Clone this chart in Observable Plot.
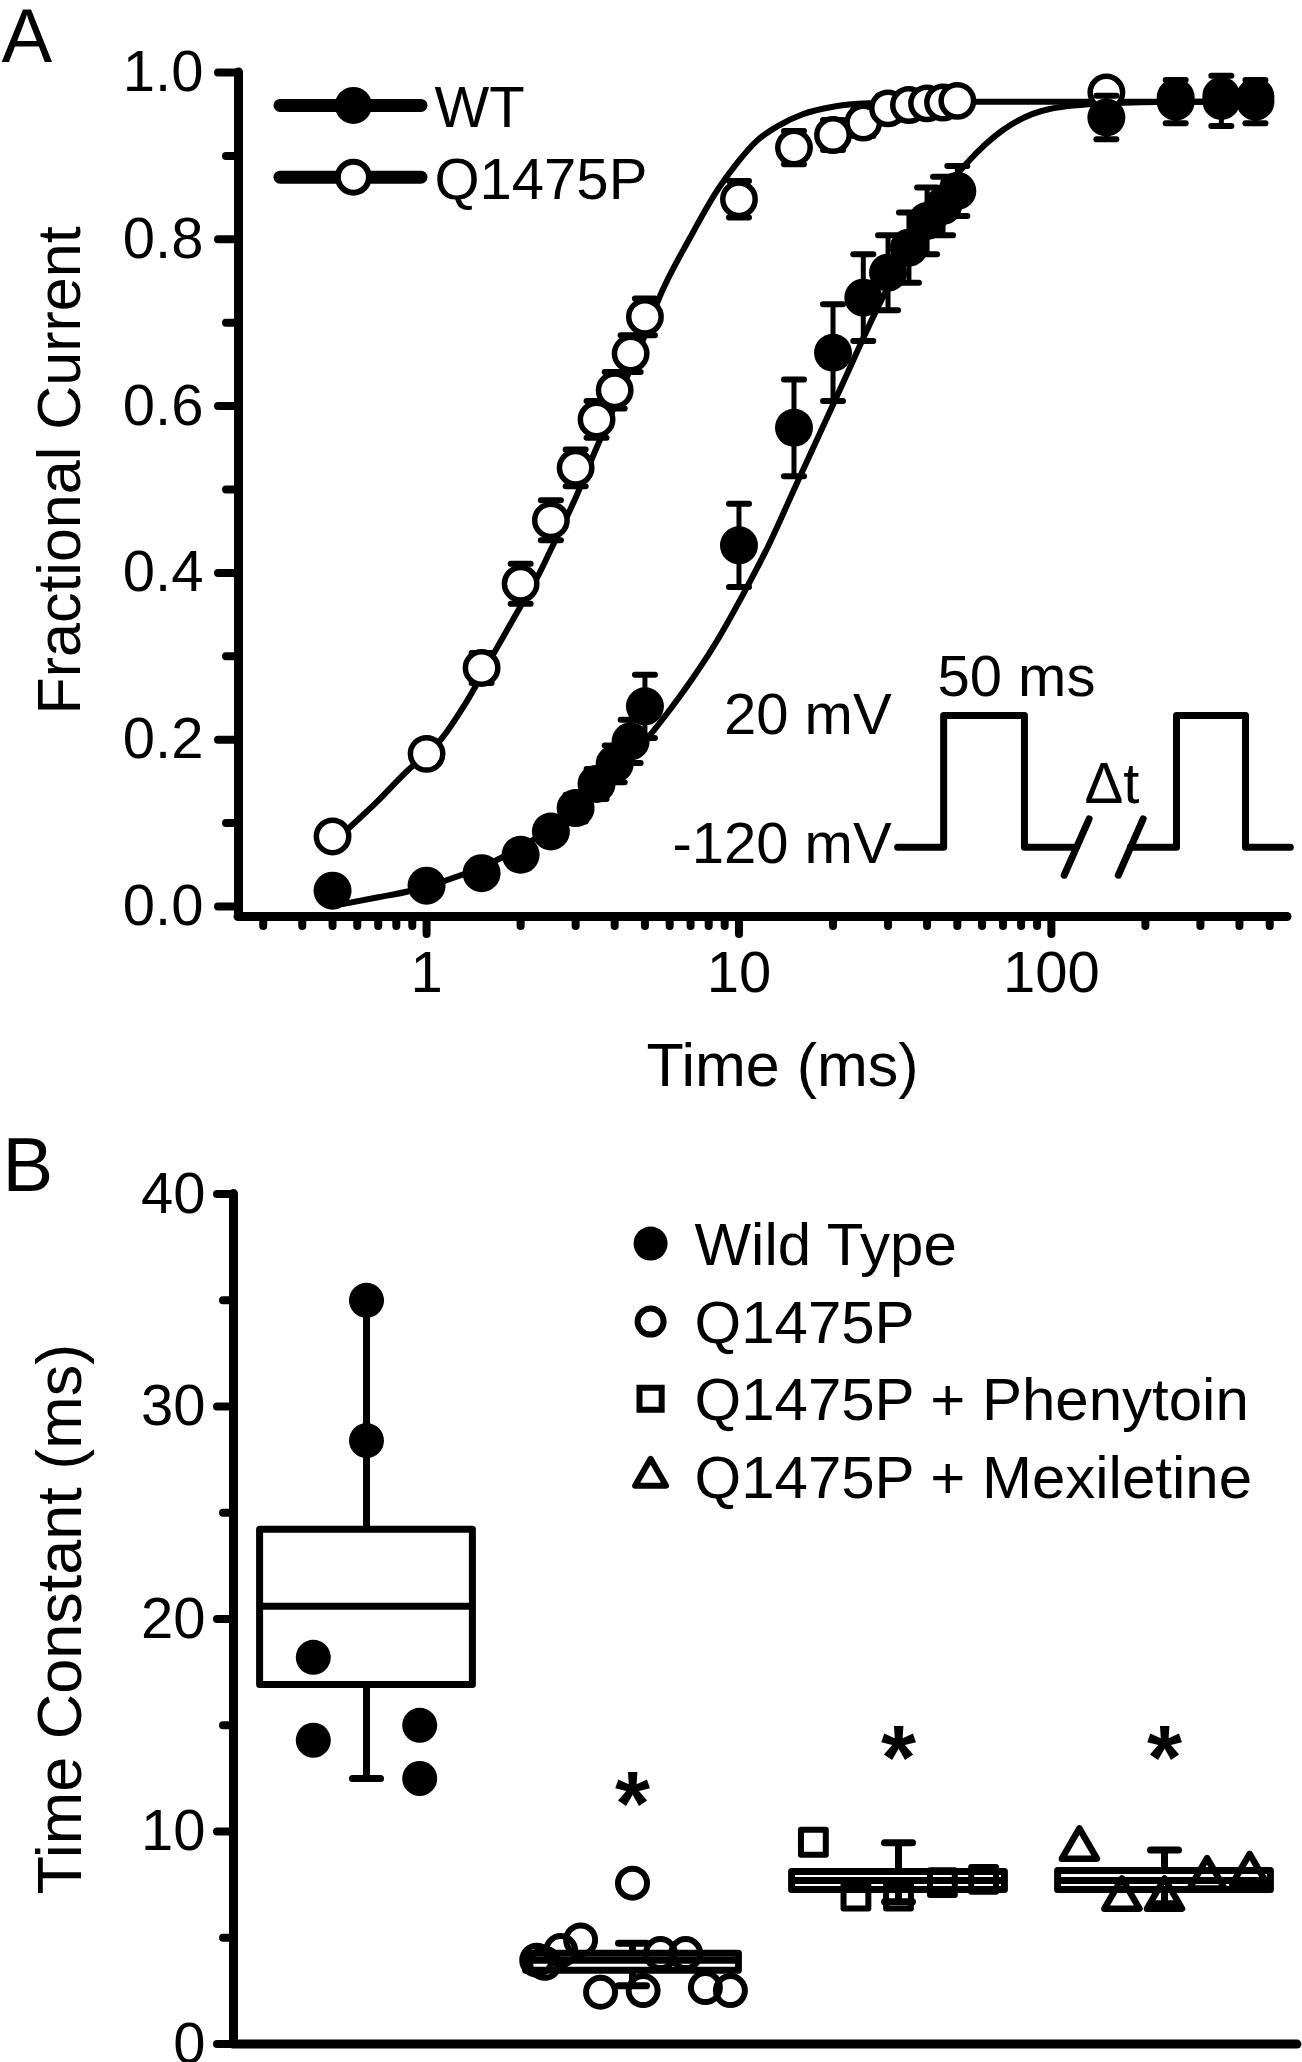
<!DOCTYPE html>
<html>
<head>
<meta charset="utf-8">
<script src="https://cdn.jsdelivr.net/npm/d3@7"></script>
<script src="https://cdn.jsdelivr.net/npm/@observablehq/plot@0.6"></script>
<style>
  body { margin: 0; background: #fff; }
  #fig svg { display: block; }
</style>
</head>
<body>
<div id="fig"></div>
<script>
// ================= Panel A data =================
const timesMs = [0.5, 1, 1.5, 2, 2.5, 3, 3.5, 4, 4.5, 5, 10, 15, 20, 25, 30, 35, 40, 45, 50, 150, 250, 350, 450];
const wtFrac  = [0.019, 0.025, 0.040, 0.062, 0.090, 0.118, 0.147, 0.171, 0.198, 0.240, 0.433, 0.574, 0.664, 0.730, 0.760, 0.790, 0.822, 0.840, 0.858, 0.946, 0.965, 0.966, 0.965];
const wtSem   = [0.008, 0.008, 0.010, 0.012, 0.014, 0.016, 0.018, 0.022, 0.026, 0.038, 0.050, 0.058, 0.058, 0.052, 0.045, 0.042, 0.040, 0.035, 0.030, 0.026, 0.026, 0.030, 0.026];
const qFrac   = [0.084, 0.183, 0.286, 0.387, 0.463, 0.526, 0.584, 0.619, 0.663, 0.707, 0.848, 0.910, 0.925, 0.940, 0.957, 0.961, 0.963, 0.964, 0.966, 0.976, 0.970, 0.972, 0.971];
const qSem    = [0.010, 0.012, 0.018, 0.024, 0.024, 0.022, 0.022, 0.022, 0.022, 0.022, 0.022, 0.020, 0.018, 0.016, 0.015, 0.015, 0.014, 0.014, 0.013, 0.012, 0.012, 0.012, 0.012];

// fitted curves
const wtFitT = [0.54, 0.7, 0.87, 1.0, 1.3, 1.6, 2, 2.5, 3, 3.5, 4, 5, 5.9, 7, 8.3, 10.3, 12.4, 15.3, 20.6, 27.8, 35, 45, 53.5, 70, 98, 150, 250, 500];
const wtFitV = [0.003, 0.011, 0.018, 0.024, 0.038, 0.052, 0.071, 0.094, 0.116, 0.138, 0.158, 0.198, 0.232, 0.270, 0.312, 0.374, 0.432, 0.507, 0.612, 0.718, 0.790, 0.857, 0.891, 0.931, 0.956, 0.963, 0.965, 0.965];
const qFitT  = [0.56, 0.7, 0.87, 1.0, 1.11, 1.33, 1.65, 2.0, 2.3, 2.5, 3, 3.5, 4, 4.5, 5, 5.5, 7, 8.5, 9.7, 11.4, 13.5, 16, 20, 26, 35, 50, 100, 500];
const qFitV  = [0.093, 0.127, 0.163, 0.183, 0.200, 0.243, 0.305, 0.360, 0.400, 0.428, 0.490, 0.550, 0.600, 0.645, 0.685, 0.726, 0.803, 0.858, 0.888, 0.918, 0.937, 0.950, 0.959, 0.963, 0.964, 0.965, 0.965, 0.965];

const yTicksA = [0, 0.2, 0.4, 0.6, 0.8, 1.0];
const yMinorA = [0.1, 0.3, 0.5, 0.7, 0.9];
const xTicksA = [1, 10, 100];
const xMinorA = [0.3, 0.4, 0.5, 0.6, 0.7, 0.8, 0.9, 2, 3, 4, 5, 6, 7, 8, 9, 20, 30, 40, 50, 60, 70, 80, 90, 200, 300, 400, 500];

const seriesA = ["WT", "Q1475P"];

// voltage protocol inset (time, level)
const proto1T = [32.2, 45.2, 45.2, 82.0, 82.0, 120];
const proto1V = [0.071, 0.071, 0.229, 0.229, 0.071, 0.071];
const proto2T = [179, 251.5, 251.5, 418.3, 418.3, 582];
const proto2V = [0.071, 0.071, 0.229, 0.229, 0.071, 0.071];
const protoBreakT1 = [109.9, 163.8];
const protoBreakT2 = [132.1, 196.7];
const protoLabels = ["20 mV", "-120 mV", "50 ms", "\u0394t"];

// ================= Panel B data =================
const groupsB = ["Wild Type", "Q1475P", "Q1475P + Phenytoin", "Q1475P + Mexiletine"];
const wtTau = [35.0, 28.4, 18.2, 14.3, 15.0, 12.5];
const wtSpread = [0, 0, -0.2, -0.2, 0.2, 0.2];
const qTau = [7.57, 4.9, 4.4, 3.95, 3.8, 2.44, 2.52, 4.26, 4.26, 2.66, 2.52];
const qSpread = [0, -0.195, -0.27, -0.36, -0.33, -0.12, 0.04, 0.105, 0.2, 0.274, 0.368];
const phenTau = [9.5, 6.96, 6.96, 7.6, 7.75];
const phenSpread = [-0.32, -0.16, 0, 0.165, 0.32];
const mexTau = [9.2, 6.85, 6.85, 7.8, 8.0];
const mexSpread = [-0.32, -0.16, 0, 0.16, 0.32];

const boxQ1  = [16.9, 3.45, 7.25, 7.25];
const boxQ3  = [24.2, 4.25, 8.10, 8.15];
const boxMid = [20.6, 3.95, 7.70, 7.70];
const whiskLo = [12.5, 2.75, 6.70, 6.60];
const whiskHi = [35.0, 4.75, 9.47, 9.14];
const starTop = [null, 12.87, 15.0, 15.0];

const yTicksB = [0, 10, 20, 30, 40];
const yMinorB = [5, 15, 25, 35];

// ================= build =================
const FONT = "'Liberation Sans', Arial, Helvetica, sans-serif";
const capSym = {draw(ctx, size) { const w = Math.sqrt(size / Math.PI); ctx.moveTo(-w, 0); ctx.lineTo(w, 0); }};

const ptsA = timesMs.map((t, i) => ({t, wt: wtFrac[i], wtE: wtSem[i], q: qFrac[i], qE: qSem[i]}));
const wtFit = wtFitT.map((t, i) => ({t, v: wtFitV[i]}));
const qFit = qFitT.map((t, i) => ({t, v: qFitV[i]}));
const proto1 = proto1T.map((t, i) => ({t, v: proto1V[i]}));
const proto2 = proto2T.map((t, i) => ({t, v: proto2V[i]}));
const breaks = protoBreakT1.map((t, i) => ({t1: t, t2: protoBreakT2[i], v1: 0.0375, v2: 0.105}));
const protoEnd = [{label: protoLabels[0], t: 30.8, v: 0.229}, {label: protoLabels[1], t: 30.8, v: 0.074}];
const protoStart = [{label: protoLabels[2], t: 43.2, v: 0.275}];
const protoMid = [{label: protoLabels[3], t: 156.3, v: 0.146}];
const legA = [{label: seriesA[0], v: 0.9605}, {label: seriesA[1], v: 0.8745}];
const LEG_A = {x1: 0.3407, x2: 0.963, xm: 0.583, xt: 1.06};

const AX = {strokeWidth: 8, strokeLinecap: "round", label: null};

const plotA = Plot.plot({
  width: 1302, height: 1120,
  marginLeft: 238, marginRight: 15, marginTop: 72, marginBottom: 204,
  x: {type: "log", domain: [0.25, 570], axis: null, label: null},
  y: {domain: [-0.012, 1.0], axis: null, label: null},
  style: {fontFamily: FONT, background: "white", color: "black"},
  marks: [
    Plot.line(wtFit, {x: "t", y: "v", curve: "monotone-x", strokeWidth: 6}),
    Plot.line(qFit, {x: "t", y: "v", curve: "monotone-x", strokeWidth: 6}),
    // protocol inset
    Plot.line(proto1, {x: "t", y: "v", strokeWidth: 7, strokeLinejoin: "round", strokeLinecap: "round"}),
    Plot.line(proto2, {x: "t", y: "v", strokeWidth: 7, strokeLinejoin: "round", strokeLinecap: "round"}),
    Plot.link(breaks, {x1: "t1", x2: "t2", y1: "v1", y2: "v2", strokeWidth: 7, strokeLinecap: "round"}),
    Plot.text(protoEnd, {x: "t", y: "v", text: "label", textAnchor: "end", lineAnchor: "middle", fontSize: 58}),
    Plot.text(protoStart, {x: "t", y: "v", text: "label", textAnchor: "start", lineAnchor: "middle", fontSize: 58}),
    Plot.text(protoMid, {x: "t", y: "v", text: "label", textAnchor: "middle", lineAnchor: "middle", fontSize: 58}),
    // Q1475P
    Plot.ruleX(ptsA, {x: "t", y1: d => d.q - d.qE, y2: d => d.q + d.qE, strokeWidth: 5}),
    Plot.dot(ptsA, {x: "t", y: d => d.q + d.qE, symbol: capSym, r: 10, stroke: "black", strokeWidth: 6, strokeLinecap: "round", fill: "none"}),
    Plot.dot(ptsA, {x: "t", y: d => d.q - d.qE, symbol: capSym, r: 10, stroke: "black", strokeWidth: 6, strokeLinecap: "round", fill: "none"}),
    Plot.dot(ptsA, {x: "t", y: "q", r: 16.2, fill: "white", stroke: "black", strokeWidth: 5.5}),
    // WT
    Plot.ruleX(ptsA, {x: "t", y1: d => d.wt - d.wtE, y2: d => d.wt + d.wtE, strokeWidth: 5}),
    Plot.dot(ptsA, {x: "t", y: d => d.wt + d.wtE, symbol: capSym, r: 10, stroke: "black", strokeWidth: 6, strokeLinecap: "round", fill: "none"}),
    Plot.dot(ptsA, {x: "t", y: d => d.wt - d.wtE, symbol: capSym, r: 10, stroke: "black", strokeWidth: 6, strokeLinecap: "round", fill: "none"}),
    Plot.dot(ptsA, {x: "t", y: "wt", r: 19, fill: "black"}),
    // axes
    Plot.ruleX([0.25], {y1: -0.012, y2: 1.0, strokeWidth: 9, strokeLinecap: "round"}),
    Plot.ruleY([-0.012], {x1: 0.25, x2: 570, strokeWidth: 9, strokeLinecap: "round"}),
    Plot.axisY(yTicksA, {...AX, anchor: "left", tickSize: 20, tickPadding: 15, fontSize: 58, tickFormat: d3.format(".1f")}),
    Plot.axisY(yMinorA, {...AX, anchor: "left", tickSize: 12, tickFormat: () => ""}),
    Plot.axisX(xTicksA, {...AX, anchor: "bottom", tickSize: 18, tickPadding: 16, fontSize: 58, tickFormat: d => String(d)}),
    Plot.axisX(xMinorA, {...AX, anchor: "bottom", tickSize: 10, tickFormat: () => ""}),
    // legend
    Plot.ruleY(legA, {y: "v", x1: LEG_A.x1, x2: LEG_A.x2, strokeWidth: 13, strokeLinecap: "round"}),
    Plot.dot([legA[0]], {x: LEG_A.xm, y: "v", r: 18.5, fill: "black"}),
    Plot.dot([legA[1]], {x: LEG_A.xm, y: "v", r: 15.5, fill: "white", stroke: "black", strokeWidth: 6}),
    Plot.text(legA, {x: LEG_A.xt, y: "v", text: "label", textAnchor: "start", lineAnchor: "middle", fontSize: 58, dy: 3}),
    // titles
    Plot.text(["Fractional Current"], {text: d => d, frameAnchor: "left", textAnchor: "middle", lineAnchor: "middle", rotate: -90, dx: -178, dy: -24, fontSize: 61}),
    Plot.text(["Time (ms)"], {text: d => d, frameAnchor: "bottom", textAnchor: "middle", lineAnchor: "middle", dx: 19.5, dy: 149.5, fontSize: 61}),
    Plot.text(["A"], {text: d => d, frameAnchor: "top-left", textAnchor: "start", lineAnchor: "middle", dx: -237, dy: -35, fontSize: 76})
  ]
});

// ---------- Panel B ----------
const boxes = groupsB.map((name, g) => ({name, g, q1: boxQ1[g], q3: boxQ3[g], mid: boxMid[g], lo: whiskLo[g], hi: whiskHi[g]}));
const mk = (vals, spread, g) => vals.map((v, i) => ({g, v, s: spread[i]}));
const wtB = mk(wtTau, wtSpread, 0);
const qB = mk(qTau, qSpread, 1);
const phB = mk(phenTau, phenSpread, 2);
const mxB = mk(mexTau, mexSpread, 3);
const stars = starTop.map((v, g) => ({g, v})).filter(d => d.v != null);
const LEG_B = {xm: 1.068, xt: 1.233, rows: [37.67, 34.0, 30.37, 26.7]};
const legB = groupsB.map((label, i) => ({label, v: LEG_B.rows[i]}));
const BW = 0.4;

const plotB = Plot.plot({
  width: 1302, height: 942,
  marginLeft: 233, marginRight: 5, marginTop: 73.6, marginBottom: 18.4,
  x: {domain: [-0.5, 3.5], axis: null, label: null},
  y: {domain: [0, 40], axis: null, label: null},
  style: {fontFamily: FONT, background: "white", color: "black"},
  marks: [
    Plot.ruleX(boxes, {x: "g", y1: "q3", y2: "hi", strokeWidth: 7}),
    Plot.ruleX(boxes, {x: "g", y1: "lo", y2: "q1", strokeWidth: 7}),
    Plot.dot(boxes, {x: "g", y: "hi", symbol: capSym, r: 14, stroke: "black", strokeWidth: 7, strokeLinecap: "round", fill: "none"}),
    Plot.dot(boxes, {x: "g", y: "lo", symbol: capSym, r: 14, stroke: "black", strokeWidth: 7, strokeLinecap: "round", fill: "none"}),
    Plot.rect(boxes, {x1: d => d.g - BW, x2: d => d.g + BW, y1: "q1", y2: "q3", fill: "white", stroke: "black", strokeWidth: 7, strokeLinejoin: "round"}),
    Plot.ruleY(boxes, {y: "mid", x1: d => d.g - BW, x2: d => d.g + BW, strokeWidth: 7}),
    // points
    Plot.dot(wtB, {x: d => d.g + d.s, y: "v", r: 17.5, fill: "black"}),
    Plot.dot(qB, {x: d => d.g + d.s, y: "v", r: 14.5, fill: "none", stroke: "black", strokeWidth: 6}),
    Plot.dot(phB, {x: d => d.g + d.s, y: "v", symbol: "square", r: 14, fill: "none", stroke: "black", strokeWidth: 6, strokeLinejoin: "round"}),
    Plot.dot(mxB, {x: d => d.g + d.s, y: "v", symbol: "triangle", r: 13, fill: "none", stroke: "black", strokeWidth: 6.5, strokeLinejoin: "round"}),
    // significance
    Plot.text(stars, {x: "g", y: "v", text: () => "*", lineAnchor: "top", fontSize: 90, fontWeight: "bold"}),
    // axes
    Plot.ruleX([-0.5], {y1: 0, y2: 40, strokeWidth: 9, strokeLinecap: "round"}),
    Plot.ruleY([0], {x1: -0.5, x2: 3.5, strokeWidth: 9, strokeLinecap: "round"}),
    Plot.axisY(yTicksB, {...AX, anchor: "left", tickSize: 16, tickPadding: 12, fontSize: 58, tickFormat: d => String(d)}),
    Plot.axisY(yMinorB, {...AX, anchor: "left", tickSize: 10, tickFormat: () => ""}),
    // legend
    Plot.dot([legB[0]], {x: LEG_B.xm, y: "v", r: 17, fill: "black"}),
    Plot.dot([legB[1]], {x: LEG_B.xm, y: "v", r: 13, fill: "none", stroke: "black", strokeWidth: 6}),
    Plot.dot([legB[2]], {x: LEG_B.xm, y: "v", symbol: "square", r: 12.5, fill: "none", stroke: "black", strokeWidth: 6}),
    Plot.dot([legB[3]], {x: LEG_B.xm, y: "v", symbol: "triangle", r: 11.5, fill: "none", stroke: "black", strokeWidth: 6, strokeLinejoin: "round"}),
    Plot.text(legB, {x: LEG_B.xt, y: "v", text: "label", textAnchor: "start", lineAnchor: "middle", fontSize: 60, dy: 2}),
    // titles
    Plot.text(["Time Constant (ms)"], {text: d => d, frameAnchor: "left", textAnchor: "middle", lineAnchor: "middle", rotate: -90, dx: -173, dy: 0, fontSize: 63}),
    Plot.text(["B"], {text: d => d, frameAnchor: "top-left", textAnchor: "start", lineAnchor: "middle", dx: -231, dy: -27.6, fontSize: 76})
  ]
});

const fig = document.getElementById("fig");
fig.appendChild(plotA);
fig.appendChild(plotB);
</script>
</body>
</html>
